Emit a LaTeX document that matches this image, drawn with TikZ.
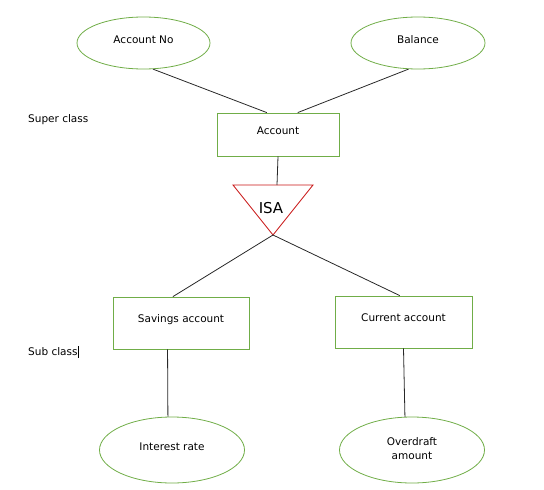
\documentclass[tikz,border=0pt]{standalone}
\usepackage{fontspec}
\setmainfont{DejaVu Sans}
\usetikzlibrary{shapes.geometric}
\definecolor{boxgreen}{RGB}{112,173,71}
\definecolor{isared}{RGB}{200,20,20}
\definecolor{linkgray}{RGB}{40,40,40}
\tikzset{
  attr/.style={ellipse, draw=boxgreen, line width=0.8pt, inner sep=0pt,
    minimum width=#1, text depth=7pt, align=center},
  attr/.default=133pt,
  entity/.style={rectangle, draw=boxgreen, line width=0.8pt, inner sep=0pt,
    text height=8pt, text depth=9pt},
  link/.style={draw=linkgray, line width=0.8pt}
}
\begin{document}
\begin{tikzpicture}[x=1pt, y=-1pt, font=\fontsize{10.5}{14}\selectfont]
  \useasboundingbox (0,0) rectangle (544,490);

  % super class
  \node[attr, minimum height=52pt] (accno) at (143.5,43) {Account No};
  \node[attr=134pt, minimum height=52pt] (balance) at (418,43) {Balance};
  \node[entity, minimum width=122pt, minimum height=43pt] (account) at (278,134.5) {Account};

  \draw[link] (accno.-70) -- (account.117);
  \draw[link] (balance.-110) -- (account.48);

  % isa triangle
  \coordinate (isaleft) at (233,185);
  \coordinate (isaright) at (313,185);
  \coordinate (isa) at (273,235);
  \coordinate (isatop) at (277,185);
  \draw[isared, line width=0.8pt] (isaleft) -- (isaright) -- (isa) -- cycle;
  \node[font=\fontsize{15}{18}\selectfont] (isalabel) at (271,208) {ISA};

  \draw[link] (account.south) -- (isatop);

  % sub classes
  \node[entity, minimum width=136pt, minimum height=52pt] (savings) at (181,323) {Savings account};
  \node[entity, minimum width=137pt, minimum height=52pt] (current) at (403.5,322) {Current account};

  \draw[link] (isa) -- (savings.107);
  \draw[link] (isa) -- (current.98);

  \node[attr=145pt, minimum height=66pt] (interest) at (172,450) {Interest rate};
  \node[attr=145pt, minimum height=66pt, text depth=3pt] (overdraft) at (412,450) {Overdraft\\amount};

  \draw[link] (savings.-117) -- (interest.97);
  \draw[link] (current.south) -- (overdraft.102);

  % class labels
  \node[anchor=west, inner sep=0pt] (super) at (28,120) {Super class};
  \node[anchor=west, inner sep=0pt] (sub) at (28,352) {Sub class};
  \draw[line width=0.7pt] ([xshift=1pt]sub.east |- 0,346) -- ([xshift=1pt]sub.east |- 0,358);
\end{tikzpicture}
\end{document}
